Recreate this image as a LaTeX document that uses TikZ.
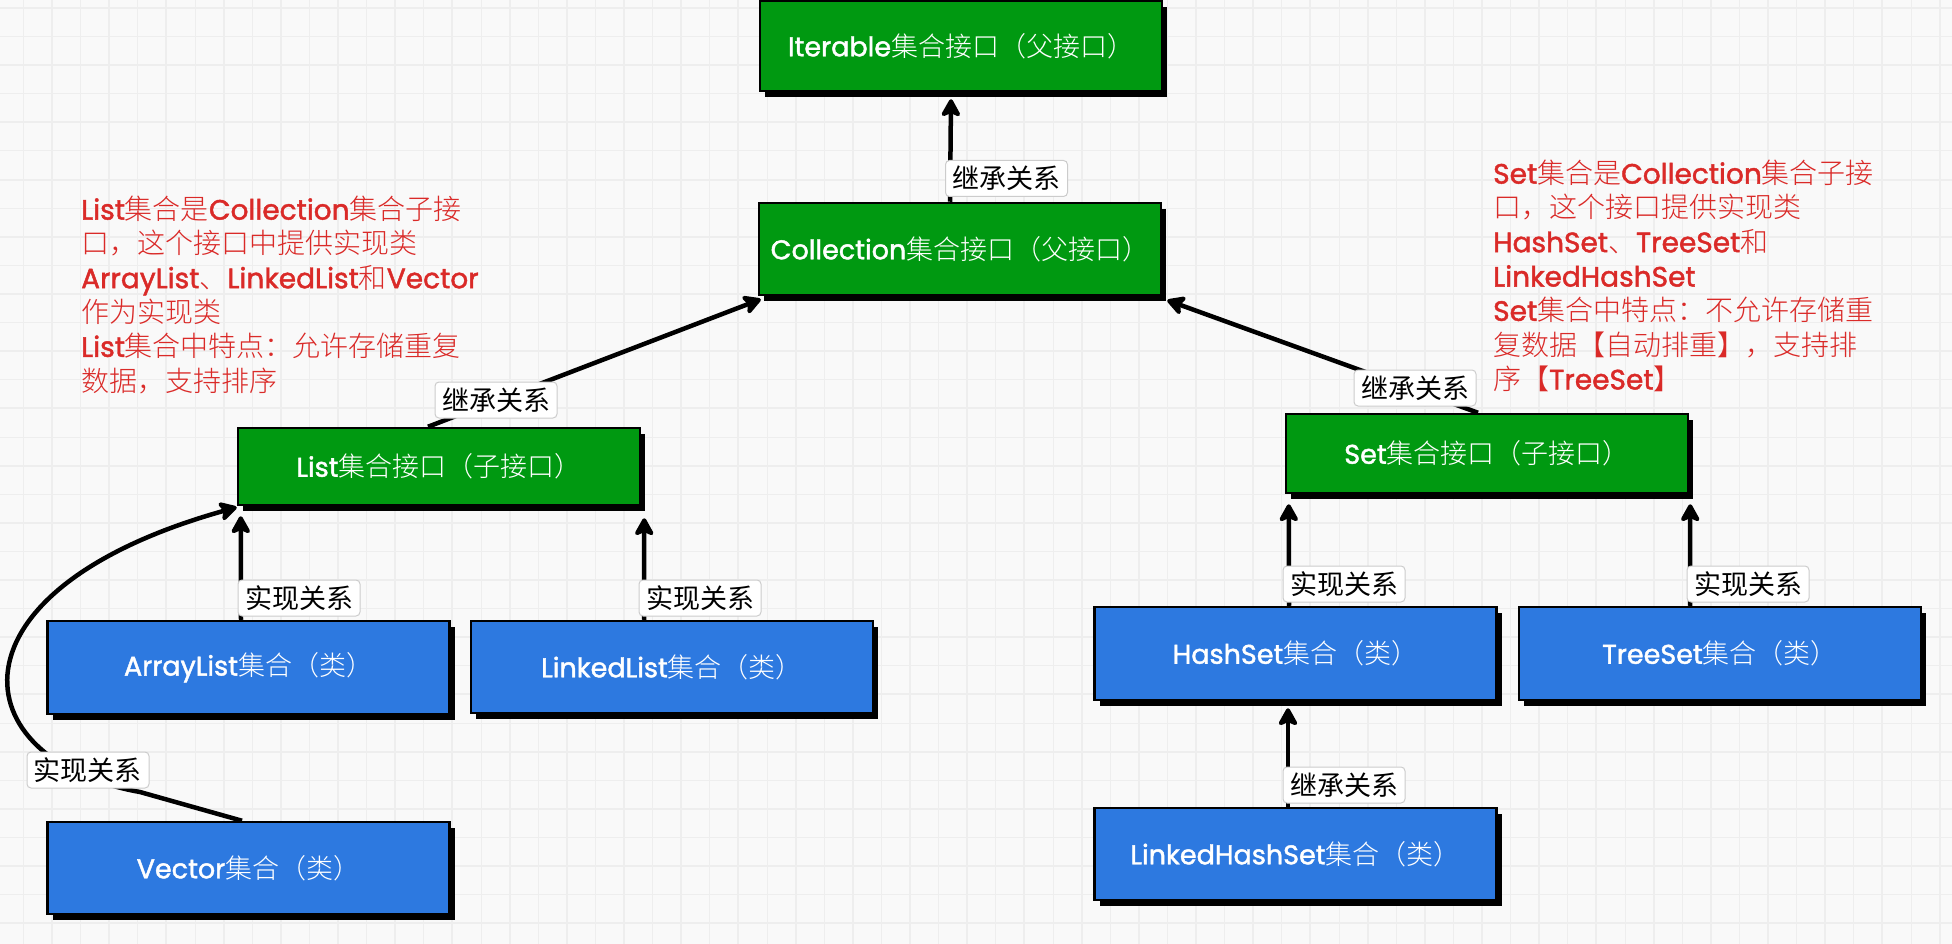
\documentclass[tikz,border=0pt]{standalone}
\usepackage{fontspec}
\IfFontExistsTF{Noto Sans CJK SC Light}{\setmainfont{Noto Sans CJK SC Light}}{\setmainfont{Noto Sans CJK SC}}
\newfontfamily\song{Noto Sans CJK SC}
\newfontfamily\lat{Poppins}[Scale=1.0, FakeBold=1.6]
\usetikzlibrary{arrows.meta,shadows}
\definecolor{bggray}{HTML}{F9F9F9}
\definecolor{gridgray}{HTML}{EEEEEE}
\definecolor{boxgreen}{RGB}{0,153,17}
\definecolor{boxblue}{RGB}{45,121,224}
\definecolor{notered}{RGB}{218,42,40}
\definecolor{lblborder}{HTML}{CCCCCC}
\begin{document}
\begin{tikzpicture}[x=1pt,y=-1pt,
  box/.style={draw=black, line width=2.5pt, minimum width=402pt, minimum height=92pt, inner sep=0pt, text=white,
    font=\fontsize{27}{30}\selectfont,
    general shadow={fill=black, shadow xshift=5pt, shadow yshift=-6pt}},
  ifc/.style={box, fill=boxgreen},
  cls/.style={box, fill=boxblue},
  arr/.style={line width=4.5pt, -{Stealth[length=21pt,width=23pt,inset=5pt,round]}},
  lbl/.style={fill=white, draw=lblborder, line width=1pt, rounded corners=4pt, minimum width=122pt,
    minimum height=36pt, inner sep=1pt, font=\song\fontsize{27}{30}\selectfont},
  note/.style={text=notered, align=left, anchor=north west, inner sep=0pt, font=\fontsize{28}{34.3}\selectfont}
]
\useasboundingbox (0,0) rectangle (1952,944);
\fill[bggray] (0,0) rectangle (1952,944);
\foreach \k in {-1,...,34} {
  \draw[gridgray, line width=1pt] ({23.4+57.2*\k},0) -- ++(0,944);
  \draw[gridgray, line width=2pt] ({52+57.2*\k},0) -- ++(0,944);
}
\foreach \k in {0,...,17} {
  \draw[gridgray, line width=1pt] (0,{36.6+57.2*\k}) -- ++(1952,0);
  \draw[gridgray, line width=2pt] (0,{8+57.2*\k}) -- ++(1952,0);
}

% boxes
\node[ifc, minimum height=90pt] (iter) at (961,46) {{\lat Iterable}集合接口（父接口）};
\node[ifc] (coll) at (960,249) {{\lat Collection}集合接口（父接口）};
\node[ifc, minimum height=77pt] (list) at (439,466.5) {{\lat List}集合接口（子接口）};
\node[ifc, minimum height=79pt] (set) at (1487,453.5) {{\lat Set}集合接口（子接口）};
\node[cls, minimum height=93pt] (alist) at (248.5,667.5) {{\lat ArrayList}集合（类）};
\node[cls] (llist) at (672,667) {{\lat LinkedList}集合（类）};
\node[cls] (vec) at (248.5,868) {{\lat Vector}集合（类）};
\node[cls, minimum height=93pt] (hset) at (1295.5,653.5) {{\lat HashSet}集合（类）};
\node[cls, minimum height=93pt] (tset) at (1720,653.5) {{\lat TreeSet}集合（类）};
\node[cls] (lhset) at (1295.5,854) {{\lat LinkedHashSet}集合（类）};

% connectors
\draw[arr] ([xshift=-10pt]coll.north) -- ([xshift=-10pt,yshift=-7pt]iter.south);
\draw[arr] ([xshift=-11pt]list.north) -- ([xshift=3pt,yshift=-3pt]coll.south west);
\draw[arr] ([xshift=-9pt]set.north) -- ([xshift=5pt,yshift=-4pt]coll.south east);
\draw[arr] ([xshift=-7.5pt]alist.north) -- ([xshift=4pt,yshift=-10pt]list.south west);
\draw[arr] ([xshift=-28pt]llist.north) -- ([xshift=3pt,yshift=-12pt]list.south east);
\draw[arr] ([xshift=-6.5pt]vec.north) -- (140,792) .. controls (-40,760) and (-60,590) .. ([yshift=-1pt]list.south west);
\draw[arr] ([xshift=-6.5pt]hset.north) -- ([xshift=4pt,yshift=-10pt]set.south west);
\draw[arr] ([xshift=-30pt]tset.north) -- ([xshift=1pt,yshift=-10pt]set.south east);
\draw[arr] ([xshift=-7.5pt]lhset.north) -- ([xshift=-7.5pt,yshift=-7pt]hset.south);

% labels
\node[lbl] (l1) at (1006.5,178.5) {继承关系};
\node[lbl] (l2) at (496,400) {继承关系};
\node[lbl] (l3) at (1415,388) {继承关系};
\node[lbl] (l4) at (299,598) {实现关系};
\node[lbl] (l5) at (700,598) {实现关系};
\node[lbl] (l6) at (88,770) {实现关系};
\node[lbl] (l7) at (1344,584) {实现关系};
\node[lbl] (l8) at (1748,584) {实现关系};
\node[lbl] (l9) at (1344,785) {继承关系};

% notes
\node[note] (nl) at (81,196) {{\lat List}集合是{\lat Collection}集合子接\\口，这个接口中提供实现类\\{\lat ArrayList}、{\lat LinkedList}和{\lat Vector}\\作为实现类\\{\lat List}集合中特点：允许存储重复\\数据，支持排序};
\node[note] (nr) at (1493,160) {{\lat Set}集合是{\lat Collection}集合子接\\口，这个接口提供实现类\\{\lat HashSet}、{\lat TreeSet}和\\{\lat LinkedHashSet}\\{\lat Set}集合中特点：不允许存储重\\复数据【自动排重】，支持排\\序【{\lat TreeSet}】};
\end{tikzpicture}
\end{document}
